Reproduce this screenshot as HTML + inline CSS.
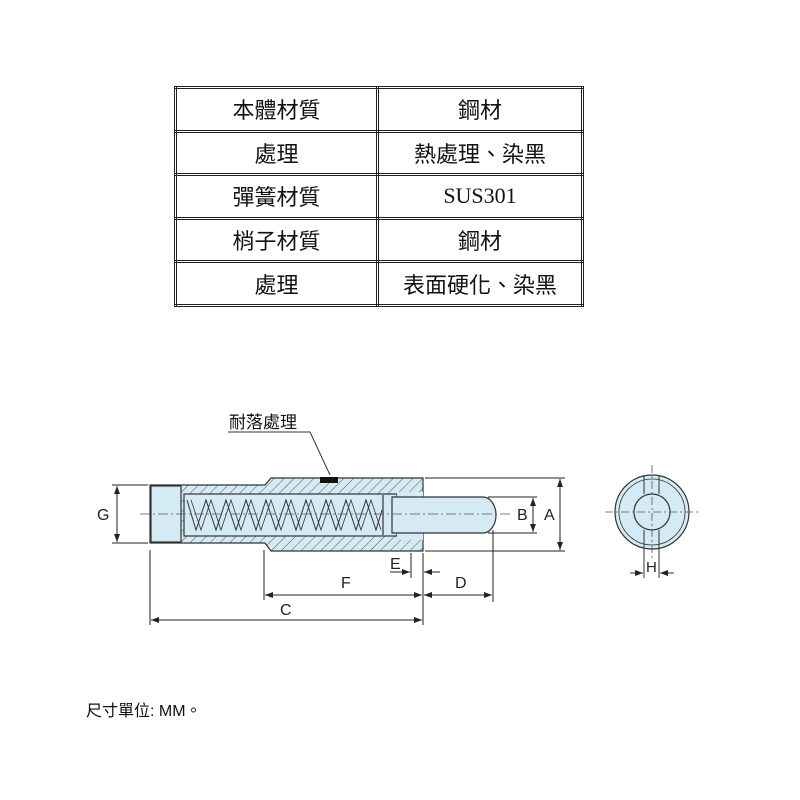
<!DOCTYPE html>
<html><head><meta charset="utf-8"><style>
body{margin:0;background:#fff;width:800px;height:800px;overflow:hidden;font-family:"Liberation Sans","Noto Sans CJK TC",sans-serif}
table{position:absolute;left:174px;top:86px;border-collapse:collapse;border:3px double #222}
td{border:3px double #222;height:40.6px;text-align:center;font-family:"Liberation Serif","Noto Sans CJK TC",serif;font-size:22px;color:#111;padding:0}
.a{width:199px}.b{width:202px}
</style></head><body>
<table>
<tr><td class="a">本體材質</td><td class="b">鋼材</td></tr>
<tr><td>處理</td><td>熱處理、染黑</td></tr>
<tr><td>彈簧材質</td><td>SUS301</td></tr>
<tr><td>梢子材質</td><td>鋼材</td></tr>
<tr><td>處理</td><td>表面硬化、染黑</td></tr>
</table>
<svg width="800" height="800" style="position:absolute;left:0;top:0" font-family="Liberation Sans, Noto Sans CJK TC, sans-serif">
<defs>
<pattern id="h" width="7" height="7" patternUnits="userSpaceOnUse" patternTransform="rotate(45)"><rect width="7" height="7" fill="#d4ebf5"/><line x1="0" y1="0" x2="0" y2="7" stroke="#555" stroke-width="1"/></pattern>
<marker id="ar" markerWidth="8" markerHeight="6" refX="8" refY="3" orient="auto-start-reverse"><path d="M0,0L8,3L0,6z" fill="#222"/></marker>
</defs>
<g stroke="#333" stroke-width="1.2">
<path d="M150,485H265L271,478H423V551H271L265,543H150Z" fill="url(#h)"/>
<rect x="151" y="486" width="30" height="56" fill="#d4ebf5"/>
<rect x="184" y="494" width="213" height="42" fill="#d4ebf5"/>
<rect x="397" y="492" width="26" height="48" fill="#d4ebf5" stroke="none"/>
<path d="M392,497H483A13,18 0 0 1 483,533H392Z" fill="#d4ebf5"/>
<line x1="383" y1="495" x2="383" y2="535"/>
<path d="M187,500 L196,530 L206,500 L216,530 L226,500 L236,530 L246,500 L256,530 L266,500 L276,530 L286,500 L296,530 L306,500 L316,530 L326,500 L336,530 L346,500 L356,530 L366,500 L376,530 L382,510" fill="none" stroke-width="1"/>
<path d="M191,500 L201,530 L211,500 L221,530 L231,500 L241,530 L251,500 L261,530 L271,500 L281,530 L291,500 L301,530 L311,500 L321,530 L331,500 L341,530 L351,500 L361,530 L371,500 L381,530" fill="none" stroke-width="0.8"/>
</g>
<rect x="320" y="477" width="18" height="6" fill="#111"/>
<line x1="140" y1="514" x2="510" y2="514" stroke="#555" stroke-width="0.8" stroke-dasharray="10,3,2,3"/>
<polyline points="330,475 310,432 228,432" fill="none" stroke="#333" stroke-width="1"/>
<text x="229" y="428" font-size="17" fill="#111">耐落處理</text>
<g stroke="#222" stroke-width="1" fill="none">
<line x1="112" y1="485" x2="148" y2="485"/><line x1="112" y1="543" x2="148" y2="543"/>
<line x1="117" y1="486" x2="117" y2="542" marker-start="url(#ar)" marker-end="url(#ar)"/>
<line x1="425" y1="478" x2="565" y2="478"/><line x1="425" y1="551" x2="565" y2="551"/>
<line x1="560" y1="479" x2="560" y2="550" marker-start="url(#ar)" marker-end="url(#ar)"/>
<line x1="488" y1="497" x2="537" y2="497"/><line x1="488" y1="533" x2="537" y2="533"/>
<line x1="533" y1="498" x2="533" y2="532" marker-start="url(#ar)" marker-end="url(#ar)"/>
<line x1="150" y1="550" x2="150" y2="625"/>
<line x1="264" y1="550" x2="264" y2="600"/>
<line x1="423" y1="553" x2="423" y2="625"/>
<line x1="411" y1="553" x2="411" y2="578"/>
<line x1="493" y1="530" x2="493" y2="602"/>
<line x1="390" y1="572" x2="410" y2="572" marker-end="url(#ar)"/>
<line x1="440" y1="572" x2="424" y2="572" marker-end="url(#ar)"/>
<line x1="265" y1="595" x2="422" y2="595" marker-start="url(#ar)" marker-end="url(#ar)"/>
<line x1="424" y1="595" x2="492" y2="595" marker-start="url(#ar)" marker-end="url(#ar)"/>
<line x1="151" y1="620" x2="422" y2="620" marker-start="url(#ar)" marker-end="url(#ar)"/>
</g>
<g font-size="16" fill="#222">
<text x="97" y="520">G</text><text x="517" y="520">B</text><text x="544" y="520">A</text>
<text x="390" y="569">E</text><text x="341" y="588">F</text><text x="455" y="588">D</text><text x="280" y="615">C</text>
</g>
<circle cx="652" cy="512" r="37" fill="#d4ebf5" stroke="#333" stroke-width="1.2"/>
<circle cx="652" cy="512" r="33" fill="none" stroke="#333" stroke-width="0.8"/>
<circle cx="652" cy="512" r="18" fill="#d4ebf5" stroke="#333" stroke-width="1.2"/>
<g stroke="#333" stroke-width="1">
<line x1="644" y1="476" x2="644" y2="494"/><line x1="659" y1="476" x2="659" y2="494"/>
<line x1="644" y1="530" x2="644" y2="578"/><line x1="659" y1="530" x2="659" y2="578"/>
<line x1="630" y1="573" x2="643" y2="573" marker-end="url(#ar)"/><line x1="674" y1="573" x2="660" y2="573" marker-end="url(#ar)"/>
</g>
<line x1="605" y1="512" x2="700" y2="512" stroke="#555" stroke-width="0.8" stroke-dasharray="8,3,2,3"/>
<line x1="652" y1="465" x2="652" y2="560" stroke="#555" stroke-width="0.8" stroke-dasharray="8,3,2,3"/>
<text x="646" y="572" font-size="15" fill="#222">H</text>
<text x="86" y="716" font-size="16" fill="#111">尺寸單位: MM。</text>
</svg>
</body></html>
